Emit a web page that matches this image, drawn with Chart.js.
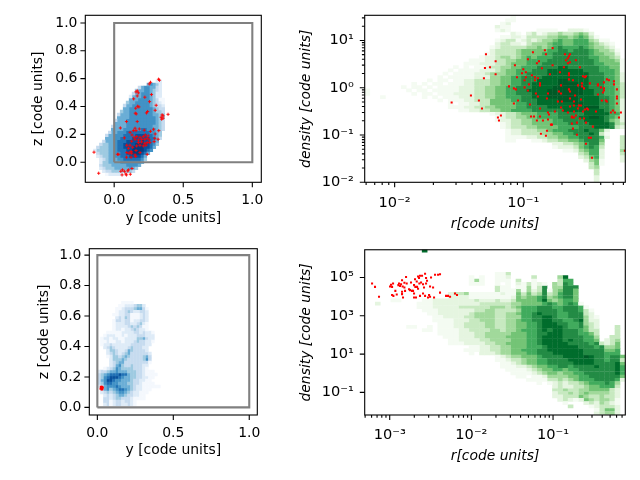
<!DOCTYPE html>
<html>
<head>
<meta charset="utf-8">
<script src="https://cdn.jsdelivr.net/npm/chart.js@4/dist/chart.umd.min.js"></script>
<style>
  html, body { margin: 0; padding: 0; background: #fff; }
  canvas { position: absolute; }
</style>
</head>
<body>
<canvas id="tl" width="285" height="235" style="left:0;top:0"></canvas>
<canvas id="tr" width="350" height="235" style="left:290px;top:0"></canvas>
<canvas id="bl" width="285" height="245" style="left:0;top:235px"></canvas>
<canvas id="br" width="350" height="245" style="left:290px;top:235px"></canvas>
<script>
// reference square
const boxX = [0, 1, 1, 0, 0];
const boxY = [0, 0, 1, 1, 0];

// density maps, one string per row from the top: "firstColumn levels", levels 1-9
const tlRows = ["21 22","18 56542","15 35665532","14 455665432","13 3556665422","12 25556665422","12 555666654311","11 4556666654321","10 35566666654332","10 55666666665433","9 455666666665443","8 3555666666665544","8 5555666666666544","7 35556666666666543","7 55556666666666543","6 355556666666665543","6 555566666677666543","5 355666777777776654","4 3556667777888877654","4 5556677778888887753","3 3555677788888988765","2 34455677888899998764","1 34445567788899998875","0 24444556777889999876","1 344455667788999875","1 23445566777888875","2 2345556677777764","2 244555566666665","2 34445555566665","2 2344455555654","3 23344444443","4 1222221"];
const trRows = ["28 1","27 11","26 12","25 211","25 121000001111002221","28 2102312334334542","26 1122133334455456531","25 1233123234456556664311","25 23322134445665566654321","24 123333344545676667654432","24 2333345555566776777654431","23 12333345555667777777655442","22 122344345656667777777665543","20 111223344556666777777777655541","19 1112223345556667777777777665551","17 101011233445566677778877777766551","16 1011112223455666777888888877766651","15 10111122344455667777888888887776652","13 0101111122244556677778888888887776652","11 010110112233344556677788889988887776652","9 10101101112233344556677888889999887776653","7 1011010111122233445566777888899999987776653","0 10000000101101111122233445566778888999999988776653","0 10000000010110111222233445566777888999999988776653","3 10000000101011122233445566677888999999888877653","13 0101112233355556677788889999888877652","16 1011223355555667788888889988877652","16 1112233445555667777888888899977652","18 11223344556666777777888888887652","24 12233455566667777788888662","25 1233445566667777889987652","25 1223344555566777788887542","26 1233445555666777788887432","26 1233344555566667778887322","27 12233344566677787752","27 12233334455667778731","27 11112233445566777762003","27 11000112334455677750003","36 22334567740003","36 12223567630003","38 112456620004","41 346620003","41 235620002","42 24510002","43 351","43 34","44 3","44 3","44 2","44 2"];
const blRows = ["8 1111","7 112223442","6 11233345531","6 12234322332","5 112233111232","6 23243111232","5 133233122332","5 122233223421","5 122223434311","5 122122343221","3 1111122223323221","2 12221121222333222","1 122122112222445322","1 112112212223433221","1 12232222223333322","2 234322223433322","3 24432235433332","3 234323453333332","3 124434543333453","4 24445433333463","4 23455333333331","4 2356433433322","2 123465444433321","0 2334556555444332111","0 34567778775443321111","0 3467888765544332211","0 356887665554332211","0 3467766555443321111","0 235666765554322111111","1 35645677654322111","1 2343456654322111","2 23234554332211","2 33234433321111","2 33123323321","2 23123322321"];
const brRows = ["11 8","","","","","","","25 113","20 1010011200003000048","20 14100111030010000366","20 11100101021312104376","25 3110114137044777","25 3111414237145775","16 2334111111211535347346775","16 2222111111112545567456775","5 110000112222222232223223555568545665","2 2000000011122222222233333344555567656761","10 111222223333334443456667776677761","11 111222222233443333466677776777631","12 11222222344443344566787776677732","13 11222233444433444667788766777421","13 11112223344433445667788776678422","14 1112233334433445566788877667432","8 11001011122333344334455667888876675320003","11 11011112233334434456667878877765330003","14 11112223344444555667788877766530003","15 1112223344445555667888877776640033","16 112222334444555667888878776650234","16 111222233445555667888887777673235","20 11223344555666788888877767445","19 111223344556667788888887777556","20 10222344555667778888887777666","25 1234455567777888898776775","25 1123345566777788888776773","26 112345566777778888777785","26 111223455667767777877786","27 11112345566566777777786","28 1111234554556677777786","29 110112444455667777775","31 1111334345666777762","33 1012323345666764","36 2322334556663","36 3343344555532","36 2334345444432","36 2233354334332","37 232125434431","38 10002324321","39 3000123332","44 13552","44 23442","45 22"];

// selected particles
const tlRedY = [-.146,-.112,.321,.328,.263,.254,.167,.158,.175,.167,.222,.270,.256,.141,.179,.170,.156,.304,.297,.242,.153,.160,.234,.390,.347,.354,.340,.354,.344,.167,.089,.045,.151,.182,.158,.139,.115,.218,.263,.285,.323,.297,.074,.129,.144,.163,.187,.211,.225,.246,.151,.175,.199,.222,.239,.254,.294,.318,.289,.127,.175,.199,.222,.239,.258,.163,.187,.211,.230,.091,.115,.134,.103,.024,.033,.239,.187,.158,.122,.091,.108,.127,.151,.089,.122,.156,.060,.048,.074,.103,.129,.057,.084,.089,.117,.098];
const tlRedZ = [.072,-.079,.596,.589,.574,.562,.512,.505,.498,.476,.467,.486,.435,.455,.397,.402,.388,.409,.373,.364,.352,.347,.354,.344,.340,.333,.323,.316,.309,.292,.292,.246,.244,.239,.227,.227,.215,.230,.222,.237,.227,.203,.175,.196,.179,.184,.179,.184,.196,.189,.165,.160,.165,.165,.172,.160,.172,.165,.148,.151,.141,.146,.136,.141,.141,.117,.122,.117,.122,.122,.122,.108,.100,.057,.057,.057,.069,.084,.077,.069,.065,.065,.053,.036,.036,.041,-.055,-.065,-.065,-.055,-.045,-.091,-.084,-.091,-.086,-.062];
const trRedLogR = [-1.557,-1.407,-1.345,-1.321,-1.306,-1.298,-1.29,-1.259,-1.215,-1.215,-1.197,-1.189,-1.174,-1.111,-1.073,-1.073,-1.065,-1.057,-1.049,-1.041,-1.01,-1,-.99,-.99,-.98,-.98,-.964,-.964,-.956,-.948,-.94,-.933,-.925,-.917,-.909,-.909,-.902,-.894,-.894,-.886,-.886,-.878,-.87,-.87,-.87,-.87,-.863,-.855,-.847,-.832,-.824,-.824,-.816,-.816,-.808,-.808,-.808,-.8,-.793,-.785,-.777,-.772,-.772,-.754,-.731,-.723,-.715,-.707,-.707,-.7,-.707,-.692,-.684,-.676,-.668,-.653,-.653,-.653,-.645,-.645,-.645,-.645,-.645,-.637,-.637,-.637,-.637,-.637,-.622,-.622,-.622,-.614,-.614,-.606,-.606,-.606,-.606,-.598,-.591,-.591,-.583,-.583,-.575,-.575,-.567,-.56,-.56,-.552,-.552,-.544,-.544,-.536,-.536,-.528,-.528,-.521,-.521,-.513,-.513,-.513,-.505,-.497,-.49,-.482,-.474,-.466,-.459,-.435,-.42,-.42,-.42,-.396,-.389,-.381,-.373,-.373,-.373,-.358,-.35,-.35,-.334,-.319,-.303,-.295,-.295,-.288,-.272,-.272,-.272,-.272,-.256,-.241,-.21];
const trRedLogD = [-.312,-.163,-.27,-.44,.199,.418,.709,.433,.56,.284,-.631,-.695,-.589,.028,-.014,-.333,.475,-.035,.22,-.27,.305,.39,.156,.007,.326,.22,.603,-.057,.071,-.355,-.61,.262,.752,-.61,.156,.22,-.121,-.695,.518,-.184,.199,.56,.092,.05,-.44,-.61,-.972,.411,-.695,.794,.709,-1.014,-.908,-.227,-.525,-.674,-.121,-.567,.284,-.78,-.78,.837,.475,-.504,-.291,-.078,.326,.05,-.121,-.291,-.418,-.482,.433,.709,.582,-.525,.518,.624,.667,.305,.262,.177,-.035,.709,.539,-.078,-.227,-.397,-.61,-.631,-.759,.156,-.865,-.631,-.376,-.291,-.504,-.163,.582,-.589,-.738,-.993,.05,-.44,-.376,.433,-.652,-.248,-.376,.092,.028,.241,-.504,-.652,-.014,.22,-.461,.241,-.738,-1.184,-.44,-.461,-1.057,.092,-1.057,-1.482,-.823,-.504,.071,.05,-.142,.007,-.27,-.099,.113,-.014,-.057,-.27,.177,-.291,.156,-.525,-.482,.135,.071,-.525,-.035,-.184,-.227,-.333,-.631,-.525,-1.333];
const blRedY = [.021,.025,.029,.033,.036,.023,.031,.028];
const blRedZ = [.122,.132,.126,.120,.130,.135,.136,.118];
const brRedLogR = [-3.216,-3.18,-3.131,-2.996,-2.984,-2.959,-2.971,-2.971,-2.955,-2.931,-2.914,-2.894,-2.886,-2.873,-2.861,-2.849,-2.849,-2.849,-2.841,-2.837,-2.82,-2.82,-2.812,-2.8,-2.792,-2.763,-2.751,-2.739,-2.727,-2.714,-2.702,-2.702,-2.702,-2.69,-2.686,-2.678,-2.669,-2.665,-2.653,-2.653,-2.641,-2.637,-2.629,-2.629,-2.616,-2.604,-2.592,-2.592,-2.58,-2.567,-2.567,-2.555,-2.555,-2.543,-2.531,-2.518,-2.506,-2.506,-2.494,-2.469,-2.457,-2.445,-2.408,-2.384,-2.384,-2.31,-2.286,-2.261,-2.2,-2.176];
const brRedLogD = [4.69,4.51,3.99,4.53,4.62,4.69,4.51,4.09,4.04,4.3,4.11,4.6,4.69,4.56,4.65,4.86,4.25,4.13,4.53,3.95,4.72,4.48,4.3,5.03,4.69,4.39,4.34,4.74,4.3,4.3,4.6,4.16,3.95,4.91,4.51,3.95,4.79,4.51,5.05,4.41,4.97,4.69,5.09,4.04,4.74,5.09,4.65,4.16,4.48,5.19,4.04,4.97,4.69,4.83,3.95,4.09,4.53,3.99,5,4.48,3.95,5.14,5.14,5.17,4.21,4.04,4.04,3.99,4.16,4.09];

// ticks
const linTicks = [0, 0.5, 1];
const linTickLabels = ["0.0", "0.5", "1.0"];
const zTicks = [0, 0.2, 0.4, 0.6, 0.8, 1];
const zTickLabels = ["0.0", "0.2", "0.4", "0.6", "0.8", "1.0"];
const trXTicks = [0.01, 0.1];
const trXTickLabels = ["10⁻²", "10⁻¹"];
const trXMinor = [.006,.007,.008,.009,.02,.03,.04,.05,.06,.07,.08,.09,.2,.3,.4,.5,.6];
const trYTicks = [0.01, 0.1, 1, 10];
const trYTickLabels = ["10⁻²", "10⁻¹", "10⁰", "10¹"];
const trYMinor = [.02,.03,.04,.05,.06,.07,.08,.09,.2,.3,.4,.5,.6,.7,.8,.9,2,3,4,5,6,7,8,9,20,30];
const brXTicks = [0.001, 0.01, 0.1];
const brXTickLabels = ["10⁻³", "10⁻²", "10⁻¹"];
const brXMinor = [.0005,.0006,.0007,.0008,.0009,.002,.003,.004,.005,.006,.007,.008,.009,.02,.03,.04,.05,.06,.07,.08,.09,.2,.3,.4,.5,.6,.7];
const brYTicks = [0.1, 10, 1000, 100000];
const brYTickLabels = ["10⁻¹", "10¹", "10³", "10⁵"];

const BLUES = ['#f4f8fd','#deebf7','#c6dbef','#9ecae1','#6baed6','#4292c6','#2171b5','#08519c','#083c7d'];
const GREENS = ['#f4fbf2','#e5f5e0','#c7e9c0','#a1d99b','#74c476','#41ab5d','#238b45','#006d2c','#005a26'];
const FONT = "'DejaVu Sans'";

// one floating-bar dataset per colour level
function cellSets(rows, colors, g) {
  const v = g.log ? (a => Math.pow(10, a)) : (a => a);
  const byLevel = colors.map(() => []);
  rows.forEach((row, j) => {
    if (!row) return;
    const [first, levels] = row.split(" ");
    [...levels].forEach((ch, k) => {
      const lev = +ch;
      if (!lev) return;
      const top = g.y0 - j * g.dy;
      byLevel[lev - 1].push({ x: v(g.x0 + (+first + k + 0.5) * g.dx), y: [v(top - g.dy), v(top)] });
    });
  });
  return byLevel.map((data, i) => ({
    type: "bar", data, backgroundColor: colors[i], borderWidth: 0,
    barThickness: g.w, grouped: false, inflateAmount: 0.2
  }));
}

function redSet(xs, ys, style, radius, log) {
  const v = log ? (a => Math.pow(10, a)) : (a => a);
  return {
    type: "scatter", data: xs.map((x, i) => ({ x: v(x), y: v(ys[i]) })),
    pointStyle: style, pointRadius: radius, pointBackgroundColor: "#ff0000",
    pointBorderColor: "#ff0000", pointBorderWidth: style === "cross" ? 0.9 : 0
  };
}

function boxSet() {
  return {
    type: "scatter", showLine: true, data: boxX.map((x, i) => ({ x, y: boxY[i] })),
    borderColor: "#808080", borderWidth: 2.1, pointRadius: 0, fill: false
  };
}

const axisFrame = {
  id: "axisFrame",
  afterDraw(chart) {
    const { ctx, chartArea: a, scales } = chart;
    ctx.save();
    ctx.strokeStyle = "#000";
    ctx.lineWidth = 1.1;
    ctx.strokeRect(a.left, a.top, a.right - a.left, a.bottom - a.top);
    ctx.beginPath();
    scales.x.ticks.forEach(t => {
      const p = scales.x.getPixelForValue(t.value);
      ctx.moveTo(p, a.bottom);
      ctx.lineTo(p, a.bottom + (t.label ? 4.9 : 2.8));
    });
    scales.y.ticks.forEach(t => {
      const p = scales.y.getPixelForValue(t.value);
      ctx.moveTo(a.left, p);
      ctx.lineTo(a.left - (t.label ? 4.9 : 2.8), p);
    });
    ctx.stroke();
    ctx.restore();
  }
};

function axis(o) {
  const ticks = o.ticks.concat(o.minor || []);
  return {
    type: o.type, min: o.min, max: o.max, offset: false,
    border: { display: false },
    grid: { drawOnChartArea: false, drawTicks: true, tickLength: 4.9, tickColor: "transparent", offset: false },
    title: {
      display: true, text: o.title, color: "#000", padding: o.pad,
      font: { family: FONT, size: 13.9, style: o.italic ? "italic" : "normal" }
    },
    ticks: {
      color: "#000", autoSkip: false, maxRotation: 0, padding: o.tickPad,
      font: { family: FONT, size: o.type === "logarithmic" ? 14.6 : 13.9 },
      callback: v => { const i = o.ticks.indexOf(v); return i < 0 ? "" : o.labels[i]; }
    },
    afterBuildTicks: s => { s.ticks = ticks.map(value => ({ value })); },
    afterFit: s => { if (o.width) s.width = o.width; if (o.height) s.height = o.height; }
  };
}

function panel(id, datasets, area, x, y) {
  const c = document.getElementById(id);
  const log = x.type === "logarithmic";
  new Chart(c, {
    type: "bar",
    data: { datasets },
    options: {
      responsive: false, animation: false, events: [], devicePixelRatio: 1,
      layout: { padding: { left: 0, top: area.top, right: c.width - area.right, bottom: 0 } },
      plugins: { legend: { display: false }, tooltip: { enabled: false } },
      scales: {
        x: axis({ ...x, height: c.height - area.bottom, tickPad: log ? 7 : 5 }),
        y: axis({ ...y, width: area.left, tickPad: log ? 6 : 3 })
      }
    },
    plugins: [axisFrame]
  });
}

panel("tl",
  [redSet(tlRedY, tlRedZ, "cross", 1.6), boxSet()].concat(cellSets(tlRows, BLUES, { x0: -0.1507, dx: 0.02153, y0: 0.5909, dy: 0.02153, w: 3 })),
  { left: 85.3, right: 261.3, top: 15.3, bottom: 182.3 },
  { type: "linear", min: -0.209, max: 1.065, ticks: linTicks, labels: linTickLabels, title: "y [code units]", pad: { top: 0, bottom: 8.7 } },
  { type: "linear", min: -0.144, max: 1.055, ticks: zTicks, labels: zTickLabels, title: "z [code units]", pad: { top: 29.7, bottom: 0 } });

panel("tr",
  [redSet(trRedLogR, trRedLogD, "rect", 1.45, true)].concat(cellSets(trRows, GREENS, { log: true, x0: -2.233, dx: 0.04052, y0: 1.532, dy: 0.07064, w: 5.21 })),
  { left: 74.7, right: 335.3, top: 15.3, bottom: 182.3 },
  { type: "logarithmic", min: 0.00585, max: 0.621, ticks: trXTicks, minor: trXMinor, labels: trXTickLabels, title: "r[code units]", italic: true, pad: { top: 0, bottom: 2.7 } },
  { type: "logarithmic", min: 0.01, max: 34, ticks: trYTicks, minor: trYMinor, labels: trYTickLabels, title: "density [code units]", italic: true, pad: { top: 7.7, bottom: 0 } });

panel("bl",
  [redSet(blRedY, blRedZ, "rect", 1.45), boxSet()].concat(cellSets(blRows, BLUES, { x0: 0, dx: 0.01978, y0: 0.698, dy: 0.01969, w: 3 })),
  { left: 89.3, right: 257.3, top: 13.7, bottom: 180 },
  { type: "linear", min: -0.053, max: 1.053, ticks: linTicks, labels: linTickLabels, title: "y [code units]", pad: { top: 0, bottom: 21.7 } },
  { type: "linear", min: -0.05, max: 1.042, ticks: zTicks, labels: zTickLabels, title: "z [code units]", pad: { top: 35.7, bottom: 0 } });

panel("br",
  [redSet(brRedLogR, brRedLogD, "rect", 1.45, true)].concat(cellSets(brRows, GREENS, { log: true, x0: -3.306, dx: 0.06382, y0: 6.485, dy: 0.173, w: 5.21 })),
  { left: 74.7, right: 335.3, top: 13.7, bottom: 180 },
  { type: "logarithmic", min: 0.000494, max: 0.767, ticks: brXTicks, minor: brXMinor, labels: brXTickLabels, title: "r[code units]", italic: true, pad: { top: 0, bottom: 15.7 } },
  { type: "logarithmic", min: 0.0066, max: 2800000, ticks: brYTicks, labels: brYTickLabels, title: "density [code units]", italic: true, pad: { top: 7.7, bottom: 0 } });
</script>
</body>
</html>
